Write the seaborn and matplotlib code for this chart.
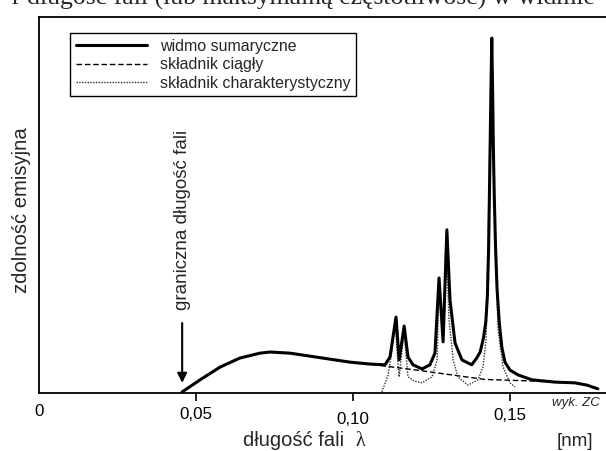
import matplotlib
matplotlib.use("Agg")
import matplotlib.pyplot as plt
from matplotlib.transforms import ScaledTranslation
import seaborn as sns
import pandas as pd

# =============================================================================
# dane (x w nm, y w jednostkach umownych 0-100)
# =============================================================================

sum_x = [0.0455, 0.0512, 0.0576, 0.0639, 0.0703, 0.0735, 0.0798, 0.0862,
         0.0926, 0.0990, 0.1053, 0.1101, 0.1117, 0.1136, 0.1146, 0.1162,
         0.1174, 0.1190, 0.1219, 0.1244, 0.1260, 0.1273, 0.1286, 0.1298,
         0.1308, 0.1324, 0.1346, 0.1377, 0.1393, 0.1404, 0.1414, 0.1422,
         0.1427, 0.1431, 0.1435, 0.1438, 0.1441, 0.1444, 0.1446, 0.1449,
         0.1453, 0.1458, 0.1465, 0.1473, 0.1483, 0.1499, 0.1525, 0.1569,
         0.1642, 0.1706, 0.1744, 0.1779]
sum_y = [0.3, 3.5, 6.9, 9.3, 10.6, 10.9, 10.6, 9.8,
         9.0, 8.2, 7.7, 7.5, 9.6, 20.2, 8.8, 17.8,
         9.6, 7.5, 6.4, 7.5, 10.6, 30.6, 13.6, 43.4,
         24.7, 13.3, 8.8, 7.5, 9.3, 10.9, 14.4, 18.9,
         25.8, 38.8, 61.2, 78.7, 94.4, 78.7, 65.4, 52.1,
         38.8, 27.4, 18.6, 12.2, 8.2, 6.1, 4.8, 3.5,
         2.9, 2.7, 2.1, 1.1]

cont_x = [0.1060, 0.1219, 0.1419, 0.1569, 0.1658]
cont_y = [7.6, 5.9, 3.6, 3.2, 2.8]

char_x = [0.1091, 0.1111, 0.1123, 0.1133, 0.1139, 0.1146, 0.1152, 0.1162,
          0.1168, 0.1174, 0.1193, 0.1219, 0.1251, 0.1267, 0.1273, 0.1286,
          0.1295, 0.1305, 0.1318, 0.1333, 0.1365, 0.1397, 0.1413, 0.1423,
          0.1429, 0.1435, 0.1442, 0.1448, 0.1454, 0.1461, 0.1477, 0.1499,
          0.1515]
char_y = [0.3, 4.8, 11.4, 19.4, 11.4, 4.3, 8.8, 16.8,
          10.1, 4.3, 3.2, 2.7, 4.3, 8.8, 29.3, 13.6,
          41.5, 19.4, 8.8, 4.3, 2.1, 3.5, 6.9, 14.1,
          38.8, 70.0, 91.2, 56.7, 34.6, 16.8, 6.9, 2.7,
          1.6]

tick_values = [0, 0.05, 0.10, 0.15]
tick_labels = ["0", "0,05", "0,10", "0,15"]

legend_labels = ["widmo sumaryczne", "składnik ciągły", "składnik charakterystyczny"]

# =============================================================================
# rysunek
# =============================================================================

sns.set_style("white")
plt.rcParams["font.family"] = ["Liberation Sans", "DejaVu Sans"]

fig = plt.figure(figsize=(6.06, 4.51), dpi=100)
ax = fig.add_axes([39.3 / 606, 58 / 451, 600.7 / 606, 376 / 451])

df_sum = pd.DataFrame({"x": sum_x, "y": sum_y})
df_cont = pd.DataFrame({"x": cont_x, "y": cont_y})
df_char = pd.DataFrame({"x": char_x, "y": char_y})

sns.lineplot(data=df_cont, x="x", y="y", ax=ax, color="black", lw=1.0,
             linestyle=(0, (4, 2)), label=legend_labels[1], zorder=2)
sns.lineplot(data=df_char, x="x", y="y", ax=ax, color="#333333", lw=1.0,
             linestyle=(0, (1, 1)), label=legend_labels[2], zorder=2)
sns.lineplot(data=df_sum, x="x", y="y", ax=ax, color="black", lw=2.2,
             label=legend_labels[0], zorder=3)

ax.set_xlim(0, 600.7 / 3140)
ax.set_ylim(0, 100)
ax.set_yticks([])
ax.set_xticks(tick_values)
ax.set_xticklabels(tick_labels, fontsize=12.2)
ax.tick_params(axis="x", direction="out", length=6, width=1.2, pad=4,
               bottom=True, colors="black")
ax.xaxis.get_major_ticks()[0].tick1line.set_visible(False)
ax.set_xlabel("")
ax.set_ylabel("")

# etykiety nierówno ułożone jak w oryginale
lbls = ax.get_xticklabels()
shifts = [3, 0, -5, -1]
for lbl, s in zip(lbls, shifts):
    lbl.set_transform(lbl.get_transform() +
                      ScaledTranslation(0, s / 100, fig.dpi_scale_trans))

for side in ["left", "bottom", "top", "right"]:
    ax.spines[side].set_color("black")
    ax.spines[side].set_linewidth(1.3)

# legenda
handles, labels = ax.get_legend_handles_labels()
order = [labels.index(l) for l in legend_labels]
leg = ax.legend([handles[i] for i in order], [labels[i] for i in order],
                loc="upper left", bbox_to_anchor=(70 / 606, 1 - 33 / 451),
                bbox_transform=fig.transFigure, borderaxespad=0,
                fontsize=11.5, handlelength=4.5, handletextpad=0.8,
                labelspacing=0.22, borderpad=0.35, frameon=True,
                fancybox=False, framealpha=1)
leg.get_frame().set_edgecolor("black")
leg.get_frame().set_linewidth(1.0)

# strzałka granicznej długości fali
ax.annotate("", xy=(0.0455, 2.7), xytext=(0.0455, 18.6),
            arrowprops=dict(arrowstyle="-|>", color="black", lw=1.5,
                            mutation_scale=14, shrinkA=0, shrinkB=0))
ax.text(0.0455, 46, "graniczna długość fali", rotation=90, fontsize=13.5,
        ha="center", va="center")

# opisy osi
fig.text(22 / 606, 1 - 210 / 451, "zdolność emisyjna", rotation=90,
         fontsize=14.6, ha="center", va="center")
fig.text(243 / 606, 1 - 441 / 451, "długość fali", fontsize=14.5,
         ha="left", va="center")
fig.text(356 / 606, 1 - 441 / 451, "λ", fontsize=14.5, ha="left", va="center",
         family=["Liberation Serif", "DejaVu Serif"])
fig.text(575 / 606, 1 - 441 / 451, "[nm]", fontsize=13.5, ha="center",
         va="center")
fig.text(552 / 606, 1 - 403 / 451, "wyk. ZC", fontsize=9.5, style="italic",
         ha="left", va="center")

# ucięty tekst z dokumentu nad rysunkiem
fig.text(0.5, 1 - 5 / 451, "r długość fali (lub maksymalną częstotliwość) w widmie",
         fontsize=18.5, ha="center", va="baseline",
         family=["Liberation Serif", "DejaVu Serif"])

fig.savefig("out.png", dpi=100)
